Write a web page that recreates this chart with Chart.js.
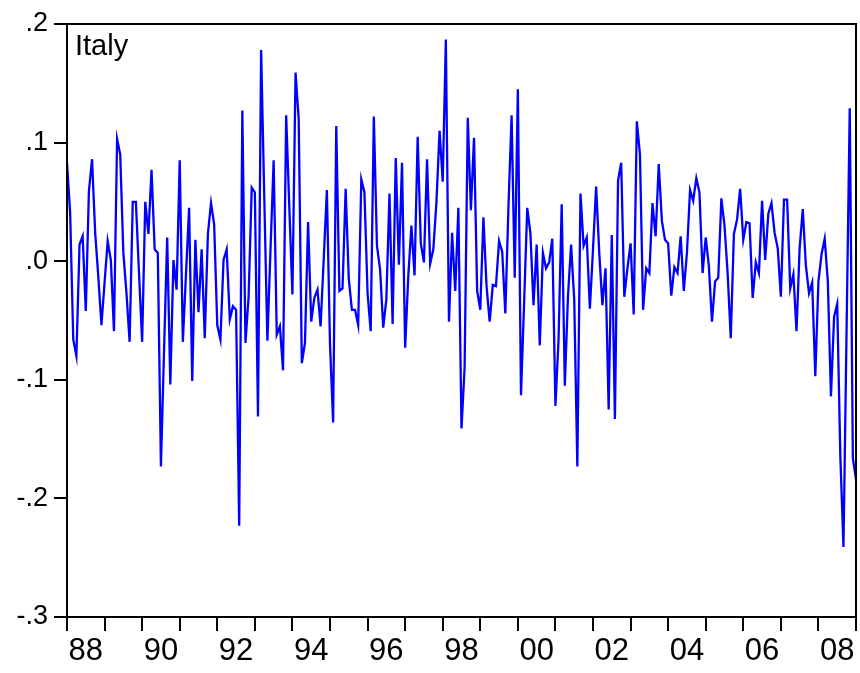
<!DOCTYPE html>
<html>
<head>
<meta charset="utf-8">
<title>Italy</title>
<script src="https://cdn.jsdelivr.net/npm/chart.js@4/dist/chart.umd.min.js"></script>
<style>
  html, body { margin: 0; padding: 0; background: #fff; }
  #wrap { position: relative; width: 860px; height: 673px; }
</style>
</head>
<body>
<div id="wrap"><canvas id="chart"></canvas></div>
<script>
// monthly series, 1988M01 .. 2009M01 (one row per year)
const italy = [
  0.083, 0.041, -0.066, -0.080, 0.014, 0.021, -0.042, 0.059, 0.086, 0.024, -0.013, -0.054,
  -0.018, 0.017, 0.001, -0.059, 0.103, 0.090, 0.007, -0.027, -0.068, 0.050, 0.050, -0.010,
  -0.068, 0.050, 0.023, 0.077, 0.010, 0.007, -0.173, -0.075, 0.020, -0.104, 0.001, -0.024,
  0.085, -0.068, -0.011, 0.045, -0.101, 0.018, -0.043, 0.010, -0.065, 0.023, 0.049, 0.031,
  -0.054, -0.066, 0.001, 0.010, -0.049, -0.038, -0.041, -0.223, 0.127, -0.069, -0.030, 0.062,
  0.058, -0.131, 0.178, 0.055, -0.067, 0.010, 0.085, -0.062, -0.055, -0.092, 0.123, 0.046,
  -0.028, 0.159, 0.120, -0.086, -0.069, 0.033, -0.051, -0.031, -0.024, -0.055, 0.002, 0.060,
  -0.070, -0.136, 0.114, -0.025, -0.023, 0.061, -0.015, -0.041, -0.041, -0.054, 0.069, 0.058,
  -0.027, -0.059, 0.122, 0.013, -0.007, -0.056, -0.032, 0.057, -0.053, 0.087, -0.003, 0.083,
  -0.073, -0.013, 0.030, -0.012, 0.105, 0.015, -0.001, 0.086, -0.002, 0.010, 0.050, 0.110,
  0.067, 0.187, -0.051, 0.024, -0.025, 0.045, -0.141, -0.089, 0.121, 0.043, 0.104, -0.025,
  -0.041, 0.037, -0.021, -0.051, -0.020, -0.021, 0.017, 0.008, -0.044, 0.046, 0.123, -0.014,
  0.145, -0.113, -0.035, 0.045, 0.024, -0.037, 0.014, -0.071, 0.007, -0.006, -0.001, 0.019,
  -0.122, -0.066, 0.048, -0.105, -0.030, 0.014, -0.032, -0.173, 0.057, 0.013, 0.020, -0.040,
  0.010, 0.063, 0.007, -0.037, -0.006, -0.125, 0.022, -0.133, 0.068, 0.083, -0.030, -0.006,
  0.015, -0.045, 0.118, 0.090, -0.041, -0.006, -0.010, 0.049, 0.021, 0.082, 0.034, 0.018,
  0.015, -0.029, -0.005, -0.010, 0.021, -0.025, 0.007, 0.060, 0.051, 0.070, 0.058, -0.010,
  0.020, -0.004, -0.051, -0.017, -0.014, 0.053, 0.030, -0.010, -0.065, 0.023, 0.035, 0.061,
  0.018, 0.033, 0.032, -0.031, -0.001, -0.010, 0.051, 0.001, 0.040, 0.049, 0.024, 0.011,
  -0.030, 0.052, 0.052, -0.023, -0.011, -0.059, 0.011, 0.044, -0.004, -0.027, -0.018, -0.097,
  -0.017, 0.006, 0.019, -0.017, -0.114, -0.047, -0.036, -0.165, -0.241, -0.056, 0.129, -0.166,
  -0.184
];

const firstYear = 1988;
const yearLabels = ['88', '90', '92', '94', '96', '98', '00', '02', '04', '06', '08'];
const yLimits = [-0.3, 0.2];

// month labels like 1988M01
const months = italy.map((_, i) => {
  const y = firstYear + Math.floor(i / 12);
  const m = (i % 12) + 1;
  return y + 'M' + (m < 10 ? '0' + m : m);
});

const FONT = '"Liberation Sans", Arial, Helvetica, sans-serif';

// frame + series name inside the plot
const framePlugin = {
  id: 'frame',
  afterDraw(chart) {
    const { ctx, chartArea: a } = chart;
    ctx.save();
    ctx.strokeStyle = '#000';
    ctx.lineWidth = 2;
    ctx.strokeRect(a.left, a.top, a.right - a.left, a.bottom - a.top);
    ctx.fillStyle = '#000';
    ctx.font = '29px ' + FONT;
    ctx.textBaseline = 'alphabetic';
    ctx.fillText('Italy', a.left + 8, a.top + 31);
    ctx.restore();
  }
};

window.onload = () => {
  new Chart(document.getElementById('chart'), {
    type: 'line',
    data: {
      labels: months,
      datasets: [{
        label: 'Italy',
        data: italy,
        borderColor: '#0000ff',
        borderWidth: 2.3,
        pointRadius: 0,
        tension: 0,
        fill: false
      }]
    },
    options: {
      responsive: true,
      maintainAspectRatio: false,
      animation: false,
      layout: { padding: { top: 24, right: 4, left: 0, bottom: 0 } },
      plugins: { legend: { display: false }, tooltip: { enabled: false } },
      scales: {
        x: {
          type: 'category',
          offset: false,
          afterFit: s => { s.height = 56; },
          border: { display: true, color: '#000', width: 2 },
          grid: {
            drawOnChartArea: false,
            drawTicks: true,
            tickLength: 14,
            lineWidth: 2,
            color: c => (c.index % 12 === 0 ? '#000' : 'rgba(0,0,0,0)')
          },
          ticks: {
            autoSkip: false,
            maxRotation: 0,
            minRotation: 0,
            padding: 2,
            color: '#000',
            font: { family: FONT, size: 31 },
            callback: (v, i) => ((i - 6) % 24 === 0 ? yearLabels[(i - 6) / 24] : '')
          }
        },
        y: {
          min: yLimits[0],
          max: yLimits[1],
          afterFit: s => { s.width = 67; },
          border: { display: true, color: '#000', width: 2 },
          grid: {
            drawOnChartArea: false,
            drawTicks: true,
            tickLength: 13,
            lineWidth: 2,
            color: '#000'
          },
          ticks: {
            stepSize: 0.1,
            padding: 6,
            color: '#000',
            font: { family: FONT, size: 27 },
            callback: v => v.toFixed(1).replace('0.', '.')
          }
        }
      }
    },
    plugins: [framePlugin]
  });
};
</script>
</body>
</html>
